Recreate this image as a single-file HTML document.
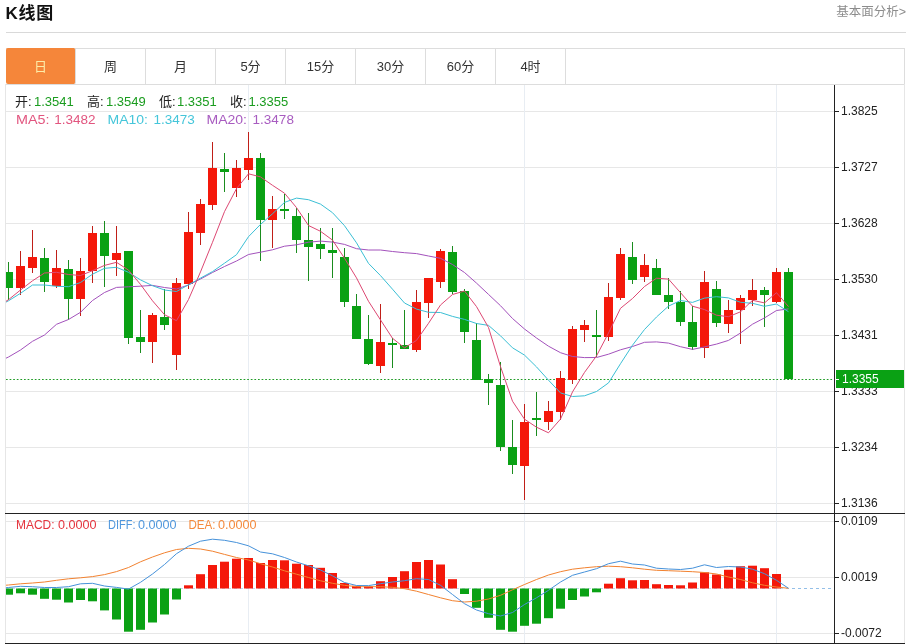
<!DOCTYPE html>
<html lang="zh-CN"><head><meta charset="utf-8"><title>K线图</title>
<style>
html,body{margin:0;padding:0;background:#fff;}
body{width:912px;height:644px;position:relative;overflow:hidden;font-family:"Liberation Sans","Noto Sans CJK SC",sans-serif;}
.title{position:absolute;left:5.5px;top:2px;height:24px;line-height:24px;font-size:17px;font-weight:bold;color:#111;letter-spacing:0.7px;}
.more{position:absolute;right:6px;top:4px;font-size:12.5px;color:#8c8c8c;line-height:16px;}
.rule{position:absolute;left:6px;top:32px;width:900px;height:1px;background:#d9d9d9;}
.tabs{position:absolute;left:6px;top:48px;width:898px;height:35px;border:1px solid #dddddd;border-left:none;box-sizing:content-box;}
.tab{position:absolute;top:0;width:69px;height:35px;line-height:36.8px;text-align:center;font-size:13px;color:#333;border-right:1px solid #dddddd;}
.tab.on{background:#f5863a;color:#fdeca8;border-radius:2px;top:-1px;height:36px;line-height:38.8px;}
</style></head><body>
<div class="title">K线图</div>
<div class="more">基本面分析&gt;</div>
<div class="rule"></div>
<div class="tabs">
<div class="tab on" style="left:0px">日</div>
<div class="tab" style="left:70px">周</div>
<div class="tab" style="left:140px">月</div>
<div class="tab" style="left:210px">5分</div>
<div class="tab" style="left:280px">15分</div>
<div class="tab" style="left:350px">30分</div>
<div class="tab" style="left:420px">60分</div>
<div class="tab" style="left:490px">4时</div>

</div>
<svg width="912" height="644" viewBox="0 0 912 644" style="position:absolute;left:0;top:0">
<g stroke="#e7e7e7" stroke-width="1" shape-rendering="crispEdges">
<line x1="6" x2="834" y1="111.5" y2="111.5"/>
<line x1="6" x2="834" y1="167.5" y2="167.5"/>
<line x1="6" x2="834" y1="223.5" y2="223.5"/>
<line x1="6" x2="834" y1="279.5" y2="279.5"/>
<line x1="6" x2="834" y1="335.5" y2="335.5"/>
<line x1="6" x2="834" y1="391.5" y2="391.5"/>
<line x1="6" x2="834" y1="447.5" y2="447.5"/>
<line x1="6" x2="834" y1="503.5" y2="503.5"/>
<line x1="6" x2="834" y1="521.5" y2="521.5"/>
<line x1="6" x2="834" y1="577.5" y2="577.5"/>
<line x1="6" x2="834" y1="633.5" y2="633.5"/>
</g>
<g stroke="#e8edf3" stroke-width="1" shape-rendering="crispEdges">
<line x1="248.5" x2="248.5" y1="85" y2="643"/>
<line x1="524.5" x2="524.5" y1="85" y2="643"/>
<line x1="776.5" x2="776.5" y1="85" y2="643"/>
</g>
<g stroke="#e6e6e6" stroke-width="1" shape-rendering="crispEdges">
<line x1="5.5" x2="5.5" y1="84" y2="644"/>
<line x1="904.5" x2="904.5" y1="84" y2="644"/>
</g>
<line x1="6" x2="834" y1="379.5" y2="379.5" stroke="#1f9c25" stroke-width="1.1" stroke-dasharray="1.7,1.9"/>
<line x1="6" x2="790" y1="588.5" y2="588.5" stroke="#c4dbf0" stroke-width="1" stroke-dasharray="3,3"/>
<line x1="792" x2="834" y1="588.5" y2="588.5" stroke="#93bfe8" stroke-width="1" stroke-dasharray="3,3"/>
<g shape-rendering="crispEdges" clip-path="url(#cp)">
<defs><clipPath id="cp"><rect x="6" y="84" width="828" height="560"/></clipPath></defs>
<rect x="8" y="262" width="1" height="38" fill="#1a8c1e"/>
<rect x="4" y="272" width="9" height="16" fill="#0aa114"/>
<rect x="20" y="251" width="1" height="44" fill="#c01f18"/>
<rect x="16" y="266" width="9" height="22" fill="#f4180a"/>
<rect x="32" y="230" width="1" height="43" fill="#c01f18"/>
<rect x="28" y="257" width="9" height="11" fill="#f4180a"/>
<rect x="44" y="248" width="1" height="44" fill="#1a8c1e"/>
<rect x="40" y="258" width="9" height="24" fill="#0aa114"/>
<rect x="56" y="250" width="1" height="38" fill="#c01f18"/>
<rect x="52" y="268" width="9" height="18" fill="#f4180a"/>
<rect x="68" y="260" width="1" height="60" fill="#1a8c1e"/>
<rect x="64" y="269" width="9" height="30" fill="#0aa114"/>
<rect x="80" y="258" width="1" height="58" fill="#c01f18"/>
<rect x="76" y="271" width="9" height="28" fill="#f4180a"/>
<rect x="92" y="226" width="1" height="57" fill="#c01f18"/>
<rect x="88" y="233" width="9" height="38" fill="#f4180a"/>
<rect x="104" y="221" width="1" height="66" fill="#1a8c1e"/>
<rect x="100" y="233" width="9" height="23" fill="#0aa114"/>
<rect x="116" y="226" width="1" height="50" fill="#c01f18"/>
<rect x="112" y="253" width="9" height="7" fill="#f4180a"/>
<rect x="128" y="251" width="1" height="93" fill="#1a8c1e"/>
<rect x="124" y="251" width="9" height="87" fill="#0aa114"/>
<rect x="140" y="310" width="1" height="43" fill="#1a8c1e"/>
<rect x="136" y="337" width="9" height="5" fill="#0aa114"/>
<rect x="152" y="313" width="1" height="50" fill="#c01f18"/>
<rect x="148" y="315" width="9" height="27" fill="#f4180a"/>
<rect x="164" y="289" width="1" height="41" fill="#1a8c1e"/>
<rect x="160" y="317" width="9" height="8" fill="#0aa114"/>
<rect x="176" y="278" width="1" height="92" fill="#c01f18"/>
<rect x="172" y="283" width="9" height="72" fill="#f4180a"/>
<rect x="188" y="212" width="1" height="77" fill="#c01f18"/>
<rect x="184" y="232" width="9" height="52" fill="#f4180a"/>
<rect x="200" y="199" width="1" height="46" fill="#c01f18"/>
<rect x="196" y="204" width="9" height="29" fill="#f4180a"/>
<rect x="212" y="142" width="1" height="68" fill="#c01f18"/>
<rect x="208" y="168" width="9" height="37" fill="#f4180a"/>
<rect x="224" y="153" width="1" height="39" fill="#1a8c1e"/>
<rect x="220" y="169" width="9" height="3" fill="#0aa114"/>
<rect x="236" y="160" width="1" height="37" fill="#c01f18"/>
<rect x="232" y="168" width="9" height="20" fill="#f4180a"/>
<rect x="248" y="132" width="1" height="48" fill="#c01f18"/>
<rect x="244" y="158" width="9" height="12" fill="#f4180a"/>
<rect x="260" y="153" width="1" height="108" fill="#1a8c1e"/>
<rect x="256" y="158" width="9" height="62" fill="#0aa114"/>
<rect x="272" y="196" width="1" height="52" fill="#c01f18"/>
<rect x="268" y="209" width="9" height="11" fill="#f4180a"/>
<rect x="284" y="194" width="1" height="25" fill="#1a8c1e"/>
<rect x="280" y="209" width="9" height="2" fill="#0aa114"/>
<rect x="296" y="208" width="1" height="45" fill="#1a8c1e"/>
<rect x="292" y="216" width="9" height="24" fill="#0aa114"/>
<rect x="308" y="213" width="1" height="68" fill="#1a8c1e"/>
<rect x="304" y="240" width="9" height="7" fill="#0aa114"/>
<rect x="320" y="228" width="1" height="31" fill="#1a8c1e"/>
<rect x="316" y="244" width="9" height="5" fill="#0aa114"/>
<rect x="332" y="228" width="1" height="50" fill="#1a8c1e"/>
<rect x="328" y="250" width="9" height="3" fill="#0aa114"/>
<rect x="344" y="248" width="1" height="59" fill="#1a8c1e"/>
<rect x="340" y="257" width="9" height="45" fill="#0aa114"/>
<rect x="356" y="294" width="1" height="45" fill="#1a8c1e"/>
<rect x="352" y="306" width="9" height="33" fill="#0aa114"/>
<rect x="368" y="315" width="1" height="50" fill="#1a8c1e"/>
<rect x="364" y="339" width="9" height="25" fill="#0aa114"/>
<rect x="380" y="304" width="1" height="69" fill="#c01f18"/>
<rect x="376" y="342" width="9" height="24" fill="#f4180a"/>
<rect x="392" y="338" width="1" height="30" fill="#1a8c1e"/>
<rect x="388" y="343" width="9" height="2" fill="#0aa114"/>
<rect x="404" y="310" width="1" height="39" fill="#1a8c1e"/>
<rect x="400" y="345" width="9" height="4" fill="#0aa114"/>
<rect x="416" y="290" width="1" height="62" fill="#c01f18"/>
<rect x="412" y="302" width="9" height="48" fill="#f4180a"/>
<rect x="428" y="278" width="1" height="40" fill="#c01f18"/>
<rect x="424" y="278" width="9" height="25" fill="#f4180a"/>
<rect x="440" y="249" width="1" height="39" fill="#c01f18"/>
<rect x="436" y="251" width="9" height="31" fill="#f4180a"/>
<rect x="452" y="246" width="1" height="48" fill="#1a8c1e"/>
<rect x="448" y="252" width="9" height="40" fill="#0aa114"/>
<rect x="464" y="289" width="1" height="54" fill="#1a8c1e"/>
<rect x="460" y="291" width="9" height="41" fill="#0aa114"/>
<rect x="476" y="323" width="1" height="57" fill="#1a8c1e"/>
<rect x="472" y="340" width="9" height="40" fill="#0aa114"/>
<rect x="488" y="374" width="1" height="31" fill="#1a8c1e"/>
<rect x="484" y="379" width="9" height="4" fill="#0aa114"/>
<rect x="500" y="362" width="1" height="89" fill="#1a8c1e"/>
<rect x="496" y="385" width="9" height="62" fill="#0aa114"/>
<rect x="512" y="420" width="1" height="54" fill="#1a8c1e"/>
<rect x="508" y="447" width="9" height="18" fill="#0aa114"/>
<rect x="524" y="404" width="1" height="96" fill="#c01f18"/>
<rect x="520" y="422" width="9" height="44" fill="#f4180a"/>
<rect x="536" y="392" width="1" height="44" fill="#1a8c1e"/>
<rect x="532" y="418" width="9" height="2" fill="#0aa114"/>
<rect x="548" y="401" width="1" height="29" fill="#c01f18"/>
<rect x="544" y="411" width="9" height="11" fill="#f4180a"/>
<rect x="560" y="371" width="1" height="49" fill="#c01f18"/>
<rect x="556" y="378" width="9" height="34" fill="#f4180a"/>
<rect x="572" y="326" width="1" height="58" fill="#c01f18"/>
<rect x="568" y="329" width="9" height="51" fill="#f4180a"/>
<rect x="584" y="320" width="1" height="22" fill="#c01f18"/>
<rect x="580" y="325" width="9" height="5" fill="#f4180a"/>
<rect x="596" y="310" width="1" height="47" fill="#1a8c1e"/>
<rect x="592" y="335" width="9" height="2" fill="#0aa114"/>
<rect x="608" y="283" width="1" height="58" fill="#c01f18"/>
<rect x="604" y="297" width="9" height="40" fill="#f4180a"/>
<rect x="620" y="248" width="1" height="52" fill="#c01f18"/>
<rect x="616" y="254" width="9" height="44" fill="#f4180a"/>
<rect x="632" y="242" width="1" height="42" fill="#1a8c1e"/>
<rect x="628" y="257" width="9" height="23" fill="#0aa114"/>
<rect x="644" y="254" width="1" height="28" fill="#c01f18"/>
<rect x="640" y="265" width="9" height="12" fill="#f4180a"/>
<rect x="656" y="259" width="1" height="36" fill="#1a8c1e"/>
<rect x="652" y="268" width="9" height="27" fill="#0aa114"/>
<rect x="668" y="278" width="1" height="31" fill="#1a8c1e"/>
<rect x="664" y="295" width="9" height="7" fill="#0aa114"/>
<rect x="680" y="291" width="1" height="35" fill="#1a8c1e"/>
<rect x="676" y="302" width="9" height="20" fill="#0aa114"/>
<rect x="692" y="306" width="1" height="44" fill="#1a8c1e"/>
<rect x="688" y="322" width="9" height="25" fill="#0aa114"/>
<rect x="704" y="271" width="1" height="87" fill="#c01f18"/>
<rect x="700" y="282" width="9" height="66" fill="#f4180a"/>
<rect x="716" y="281" width="1" height="46" fill="#1a8c1e"/>
<rect x="712" y="289" width="9" height="34" fill="#0aa114"/>
<rect x="728" y="300" width="1" height="33" fill="#c01f18"/>
<rect x="724" y="310" width="9" height="14" fill="#f4180a"/>
<rect x="740" y="295" width="1" height="49" fill="#c01f18"/>
<rect x="736" y="298" width="9" height="12" fill="#f4180a"/>
<rect x="752" y="279" width="1" height="27" fill="#c01f18"/>
<rect x="748" y="290" width="9" height="10" fill="#f4180a"/>
<rect x="764" y="287" width="1" height="40" fill="#1a8c1e"/>
<rect x="760" y="290" width="9" height="5" fill="#0aa114"/>
<rect x="776" y="268" width="1" height="35" fill="#c01f18"/>
<rect x="772" y="272" width="9" height="30" fill="#f4180a"/>
<rect x="788" y="268" width="1" height="112" fill="#1a8c1e"/>
<rect x="784" y="272" width="9" height="107" fill="#0aa114"/>
</g>
<g clip-path="url(#cp)">
<rect x="4" y="588.5" width="9" height="6.2" fill="#0aa114"/>
<rect x="16" y="588.5" width="9" height="4.8" fill="#0aa114"/>
<rect x="28" y="588.5" width="9" height="6.2" fill="#0aa114"/>
<rect x="40" y="588.5" width="9" height="10.3" fill="#0aa114"/>
<rect x="52" y="588.5" width="9" height="11.2" fill="#0aa114"/>
<rect x="64" y="588.5" width="9" height="14.0" fill="#0aa114"/>
<rect x="76" y="588.5" width="9" height="11.5" fill="#0aa114"/>
<rect x="88" y="588.5" width="9" height="12.8" fill="#0aa114"/>
<rect x="100" y="588.5" width="9" height="21.9" fill="#0aa114"/>
<rect x="112" y="588.5" width="9" height="31.0" fill="#0aa114"/>
<rect x="124" y="588.5" width="9" height="43.2" fill="#0aa114"/>
<rect x="136" y="588.5" width="9" height="41.3" fill="#0aa114"/>
<rect x="148" y="588.5" width="9" height="34.0" fill="#0aa114"/>
<rect x="160" y="588.5" width="9" height="26.0" fill="#0aa114"/>
<rect x="172" y="588.5" width="9" height="11.0" fill="#0aa114"/>
<rect x="184" y="585.3" width="9" height="3.2" fill="#f4180a"/>
<rect x="196" y="574.2" width="9" height="14.3" fill="#f4180a"/>
<rect x="208" y="565.0" width="9" height="23.5" fill="#f4180a"/>
<rect x="220" y="561.7" width="9" height="26.8" fill="#f4180a"/>
<rect x="232" y="558.7" width="9" height="29.8" fill="#f4180a"/>
<rect x="244" y="558.0" width="9" height="30.5" fill="#f4180a"/>
<rect x="256" y="563.0" width="9" height="25.5" fill="#f4180a"/>
<rect x="268" y="560.0" width="9" height="28.5" fill="#f4180a"/>
<rect x="280" y="560.3" width="9" height="28.2" fill="#f4180a"/>
<rect x="292" y="563.7" width="9" height="24.8" fill="#f4180a"/>
<rect x="304" y="565.0" width="9" height="23.5" fill="#f4180a"/>
<rect x="316" y="567.8" width="9" height="20.7" fill="#f4180a"/>
<rect x="328" y="573.0" width="9" height="15.5" fill="#f4180a"/>
<rect x="340" y="583.0" width="9" height="5.5" fill="#f4180a"/>
<rect x="352" y="585.8" width="9" height="2.7" fill="#f4180a"/>
<rect x="364" y="586.4" width="9" height="2.1" fill="#f4180a"/>
<rect x="376" y="581.2" width="9" height="7.3" fill="#f4180a"/>
<rect x="388" y="577.0" width="9" height="11.5" fill="#f4180a"/>
<rect x="400" y="571.2" width="9" height="17.3" fill="#f4180a"/>
<rect x="412" y="562.0" width="9" height="26.5" fill="#f4180a"/>
<rect x="424" y="560.0" width="9" height="28.5" fill="#f4180a"/>
<rect x="436" y="564.5" width="9" height="24.0" fill="#f4180a"/>
<rect x="448" y="579.2" width="9" height="9.3" fill="#f4180a"/>
<rect x="460" y="588.5" width="9" height="5.5" fill="#0aa114"/>
<rect x="472" y="588.5" width="9" height="19.3" fill="#0aa114"/>
<rect x="484" y="588.5" width="9" height="29.3" fill="#0aa114"/>
<rect x="496" y="588.5" width="9" height="41.3" fill="#0aa114"/>
<rect x="508" y="588.5" width="9" height="43.2" fill="#0aa114"/>
<rect x="520" y="588.5" width="9" height="37.3" fill="#0aa114"/>
<rect x="532" y="588.5" width="9" height="35.2" fill="#0aa114"/>
<rect x="544" y="588.5" width="9" height="29.7" fill="#0aa114"/>
<rect x="556" y="588.5" width="9" height="20.2" fill="#0aa114"/>
<rect x="568" y="588.5" width="9" height="11.5" fill="#0aa114"/>
<rect x="580" y="588.5" width="9" height="8.0" fill="#0aa114"/>
<rect x="592" y="588.5" width="9" height="3.8" fill="#0aa114"/>
<rect x="604" y="583.7" width="9" height="4.8" fill="#f4180a"/>
<rect x="616" y="578.2" width="9" height="10.3" fill="#f4180a"/>
<rect x="628" y="580.3" width="9" height="8.2" fill="#f4180a"/>
<rect x="640" y="580.0" width="9" height="8.5" fill="#f4180a"/>
<rect x="652" y="584.2" width="9" height="4.3" fill="#f4180a"/>
<rect x="664" y="585.0" width="9" height="3.5" fill="#f4180a"/>
<rect x="676" y="585.3" width="9" height="3.2" fill="#f4180a"/>
<rect x="688" y="582.5" width="9" height="6.0" fill="#f4180a"/>
<rect x="700" y="572.3" width="9" height="16.2" fill="#f4180a"/>
<rect x="712" y="574.5" width="9" height="14.0" fill="#f4180a"/>
<rect x="724" y="569.8" width="9" height="18.7" fill="#f4180a"/>
<rect x="736" y="566.2" width="9" height="22.3" fill="#f4180a"/>
<rect x="748" y="565.7" width="9" height="22.8" fill="#f4180a"/>
<rect x="760" y="568.2" width="9" height="20.3" fill="#f4180a"/>
<rect x="772" y="574.0" width="9" height="14.5" fill="#f4180a"/>
</g>
<polyline fill="none" stroke="#a352bc" stroke-width="1.0" stroke-linejoin="round" points="6,358.2 8.5,357.0 20.5,350.0 32.5,341.3 44.5,335.0 56.5,324.3 68.5,319.5 80.5,312.3 92.5,300.5 104.5,292.5 116.5,287.4 128.5,286.8 140.5,286.2 152.5,285.4 164.5,287.5 176.5,289.0 188.5,285.0 200.5,279.0 212.5,272.5 224.5,266.5 236.5,261.0 248.5,254.5 260.5,252.2 272.5,249.8 284.5,246.2 296.5,244.8 308.5,242.2 320.5,241.1 332.5,242.1 344.5,244.4 356.5,248.7 368.5,250.0 380.5,250.0 392.5,251.5 404.5,252.7 416.5,253.6 428.5,256.0 440.5,258.3 452.5,264.5 464.5,272.5 476.5,283.1 488.5,294.4 500.5,305.7 512.5,318.5 524.5,329.0 536.5,338.0 548.5,346.2 560.5,352.7 572.5,356.5 584.5,357.6 596.5,357.5 608.5,354.2 620.5,349.8 632.5,346.5 644.5,342.3 656.5,341.9 668.5,343.1 680.5,346.7 692.5,349.4 704.5,346.9 716.5,344.1 728.5,340.4 740.5,333.0 752.5,324.2 764.5,317.9 776.5,310.5 788.5,308.9" />
<polyline fill="none" stroke="#3bbfd5" stroke-width="1.0" stroke-linejoin="round" points="6,302.1 8.5,300.8 20.5,293.3 32.5,285.0 44.5,285.0 56.5,286.3 68.5,286.7 80.5,282.5 92.5,274.2 104.5,268.3 116.5,267.3 128.5,272.3 140.5,279.9 152.5,285.7 164.5,290.0 176.5,291.5 188.5,284.8 200.5,278.1 212.5,271.6 224.5,263.2 236.5,254.7 248.5,236.7 260.5,224.4 272.5,213.8 284.5,202.4 296.5,198.1 308.5,199.7 320.5,204.1 332.5,212.7 344.5,225.7 356.5,242.8 368.5,263.4 380.5,275.6 392.5,289.2 404.5,303.0 416.5,309.1 428.5,312.3 440.5,312.5 452.5,316.4 464.5,319.4 476.5,323.5 488.5,325.4 500.5,335.8 512.5,347.8 524.5,355.1 536.5,366.9 548.5,380.2 560.5,392.9 572.5,396.5 584.5,395.8 596.5,391.5 608.5,382.9 620.5,363.7 632.5,345.2 644.5,329.5 656.5,317.0 668.5,306.1 680.5,300.5 692.5,302.4 704.5,298.1 716.5,296.7 728.5,297.9 740.5,302.3 752.5,303.3 764.5,306.3 776.5,304.0 788.5,311.7" />
<polyline fill="none" stroke="#dd4873" stroke-width="1.0" stroke-linejoin="round" points="6,301.3 8.5,299.7 20.5,290.0 32.5,280.8 44.5,273.0 56.5,272.3 68.5,274.5 80.5,275.5 92.5,270.7 104.5,265.4 116.5,262.3 128.5,270.1 140.5,284.4 152.5,300.8 164.5,314.7 176.5,320.7 188.5,299.5 200.5,271.9 212.5,242.3 224.5,211.6 236.5,188.6 248.5,173.8 260.5,176.9 272.5,185.3 284.5,193.2 296.5,207.6 308.5,225.5 320.5,231.3 332.5,240.1 344.5,258.2 356.5,277.9 368.5,301.3 380.5,319.9 392.5,338.3 404.5,347.8 416.5,340.4 428.5,323.3 440.5,305.0 452.5,294.5 464.5,291.0 476.5,306.6 488.5,327.5 500.5,366.6 512.5,401.2 524.5,419.2 536.5,427.2 548.5,432.8 560.5,419.1 572.5,391.9 584.5,372.4 596.5,355.9 608.5,333.0 620.5,308.3 632.5,298.5 644.5,286.5 656.5,278.2 668.5,279.1 680.5,292.7 692.5,306.2 704.5,309.6 716.5,315.2 728.5,316.7 740.5,311.8 752.5,300.3 764.5,302.9 776.5,292.7 788.5,306.6" />
<polyline fill="none" stroke="#f28230" stroke-width="1.0" stroke-linejoin="round" points="6,585.2 8.5,585.0 20.5,583.8 32.5,583.0 44.5,582.0 56.5,580.3 68.5,578.8 80.5,577.8 92.5,576.6 104.5,574.6 116.5,571.6 128.5,567.5 140.5,561.8 152.5,557.0 164.5,552.8 176.5,549.5 188.5,548.3 200.5,549.0 212.5,551.2 224.5,554.4 236.5,557.5 248.5,560.0 260.5,563.7 272.5,567.0 284.5,570.8 296.5,574.2 308.5,577.5 320.5,580.8 332.5,583.3 344.5,585.3 356.5,586.7 368.5,586.7 380.5,586.7 392.5,587.3 404.5,588.7 416.5,591.2 428.5,594.5 440.5,597.8 452.5,600.7 464.5,602.0 476.5,601.2 488.5,599.0 500.5,595.3 512.5,589.8 524.5,584.5 536.5,579.5 548.5,575.0 560.5,571.7 572.5,569.2 584.5,567.8 596.5,566.7 608.5,566.2 620.5,566.7 632.5,567.8 644.5,569.2 656.5,570.3 668.5,570.7 680.5,571.2 692.5,571.7 704.5,572.5 716.5,574.0 728.5,577.0 740.5,579.5 752.5,582.8 764.5,585.3 776.5,587.0 788.5,588.3" />
<polyline fill="none" stroke="#4692da" stroke-width="1.0" stroke-linejoin="round" points="6,587.7 8.5,587.5 20.5,586.3 32.5,586.7 44.5,587.5 56.5,587.5 68.5,586.7 80.5,583.8 92.5,583.3 104.5,586.0 116.5,587.4 128.5,589.1 140.5,582.3 152.5,574.0 164.5,564.5 176.5,553.7 188.5,546.2 200.5,541.2 212.5,539.2 224.5,540.3 236.5,542.5 248.5,545.8 260.5,552.0 272.5,553.8 284.5,557.5 296.5,562.0 308.5,565.8 320.5,570.0 332.5,575.8 344.5,582.5 356.5,585.5 368.5,585.6 380.5,583.7 392.5,582.0 404.5,580.7 416.5,578.7 428.5,579.5 440.5,585.3 452.5,594.5 464.5,603.7 476.5,610.0 488.5,613.7 500.5,616.0 512.5,612.5 524.5,604.5 536.5,597.8 548.5,590.3 560.5,582.0 572.5,575.3 584.5,572.0 596.5,568.7 608.5,563.7 620.5,561.2 632.5,564.0 644.5,565.0 656.5,568.2 668.5,569.0 680.5,569.5 692.5,568.2 704.5,564.8 716.5,567.5 728.5,566.5 740.5,567.0 752.5,569.2 764.5,573.7 776.5,580.3 788.5,588.3" />
<g stroke="#222" stroke-width="1" shape-rendering="crispEdges">
<line x1="834.5" x2="834.5" y1="85" y2="644"/>
<line x1="5" x2="905" y1="513.5" y2="513.5"/>
<line x1="5" x2="905" y1="643.5" y2="643.5"/>
<line x1="835" x2="839" y1="111.5" y2="111.5"/>
<line x1="835" x2="839" y1="167.5" y2="167.5"/>
<line x1="835" x2="839" y1="223.5" y2="223.5"/>
<line x1="835" x2="839" y1="279.5" y2="279.5"/>
<line x1="835" x2="839" y1="335.5" y2="335.5"/>
<line x1="835" x2="839" y1="391.5" y2="391.5"/>
<line x1="835" x2="839" y1="447.5" y2="447.5"/>
<line x1="835" x2="839" y1="503.5" y2="503.5"/>
<line x1="835" x2="839" y1="521.5" y2="521.5"/>
<line x1="835" x2="839" y1="577.5" y2="577.5"/>
<line x1="835" x2="839" y1="633.5" y2="633.5"/>
</g>
<g font-family="Liberation Sans, sans-serif" font-size="12" fill="#222">
<text x="841" y="115.2">1.3825</text>
<text x="841" y="171.2">1.3727</text>
<text x="841" y="227.2">1.3628</text>
<text x="841" y="283.2">1.3530</text>
<text x="841" y="339.2">1.3431</text>
<text x="841" y="395.2">1.3333</text>
<text x="841" y="451.2">1.3234</text>
<text x="841" y="507.2">1.3136</text>
<text x="841" y="525.2">0.0109</text>
<text x="841" y="581.2">0.0019</text>
<text x="841" y="637.2">-0.0072</text>
</g>
<rect x="836" y="370" width="68" height="18" fill="#0aa114" shape-rendering="crispEdges"/>
<line x1="835" x2="839" y1="379.5" y2="379.5" stroke="#fff" shape-rendering="crispEdges"/>
<text x="842" y="383.2" font-family="Liberation Sans, sans-serif" font-size="12" fill="#fff">1.3355</text>
<text x="15" y="106" font-family="Liberation Sans, Noto Sans CJK SC, sans-serif" font-size="13" fill="#222">开:</text>
<text x="34" y="106" font-family="Liberation Sans, Noto Sans CJK SC, sans-serif" font-size="13" fill="#1a9c1f">1.3541</text>
<text x="87" y="106" font-family="Liberation Sans, Noto Sans CJK SC, sans-serif" font-size="13" fill="#222">高:</text>
<text x="106" y="106" font-family="Liberation Sans, Noto Sans CJK SC, sans-serif" font-size="13" fill="#1a9c1f">1.3549</text>
<text x="159" y="106" font-family="Liberation Sans, Noto Sans CJK SC, sans-serif" font-size="13" fill="#222">低:</text>
<text x="177" y="106" font-family="Liberation Sans, Noto Sans CJK SC, sans-serif" font-size="13" fill="#1a9c1f">1.3351</text>
<text x="230" y="106" font-family="Liberation Sans, Noto Sans CJK SC, sans-serif" font-size="13" fill="#222">收:</text>
<text x="248.5" y="106" font-family="Liberation Sans, Noto Sans CJK SC, sans-serif" font-size="13" fill="#1a9c1f">1.3355</text>
<text x="16" y="123.5" font-family="Liberation Sans, Noto Sans CJK SC, sans-serif" font-size="13.5" fill="#e2557f" textLength="33.5" lengthAdjust="spacingAndGlyphs">MA5:</text>
<text x="54.3" y="123.5" font-family="Liberation Sans, Noto Sans CJK SC, sans-serif" font-size="13.5" fill="#e2557f">1.3482</text>
<text x="107.5" y="123.5" font-family="Liberation Sans, Noto Sans CJK SC, sans-serif" font-size="13.5" fill="#45c6da" textLength="40.5" lengthAdjust="spacingAndGlyphs">MA10:</text>
<text x="153.5" y="123.5" font-family="Liberation Sans, Noto Sans CJK SC, sans-serif" font-size="13.5" fill="#45c6da">1.3473</text>
<text x="206.5" y="123.5" font-family="Liberation Sans, Noto Sans CJK SC, sans-serif" font-size="13.5" fill="#a85cc0" textLength="40.5" lengthAdjust="spacingAndGlyphs">MA20:</text>
<text x="252.6" y="123.5" font-family="Liberation Sans, Noto Sans CJK SC, sans-serif" font-size="13.5" fill="#a85cc0">1.3478</text>
<text x="16" y="528.7" font-family="Liberation Sans, Noto Sans CJK SC, sans-serif" font-size="13" fill="#e5333d" textLength="38.5" lengthAdjust="spacingAndGlyphs">MACD:</text>
<text x="58" y="528.7" font-family="Liberation Sans, Noto Sans CJK SC, sans-serif" font-size="12.6" fill="#e5333d">0.0000</text>
<text x="108" y="528.7" font-family="Liberation Sans, Noto Sans CJK SC, sans-serif" font-size="13" fill="#4f97dd" textLength="27.5" lengthAdjust="spacingAndGlyphs">DIFF:</text>
<text x="138" y="528.7" font-family="Liberation Sans, Noto Sans CJK SC, sans-serif" font-size="12.6" fill="#4f97dd">0.0000</text>
<text x="188.5" y="528.7" font-family="Liberation Sans, Noto Sans CJK SC, sans-serif" font-size="13" fill="#f58a3c" textLength="27" lengthAdjust="spacingAndGlyphs">DEA:</text>
<text x="218" y="528.7" font-family="Liberation Sans, Noto Sans CJK SC, sans-serif" font-size="12.6" fill="#f58a3c">0.0000</text>
</svg>
</body></html>
